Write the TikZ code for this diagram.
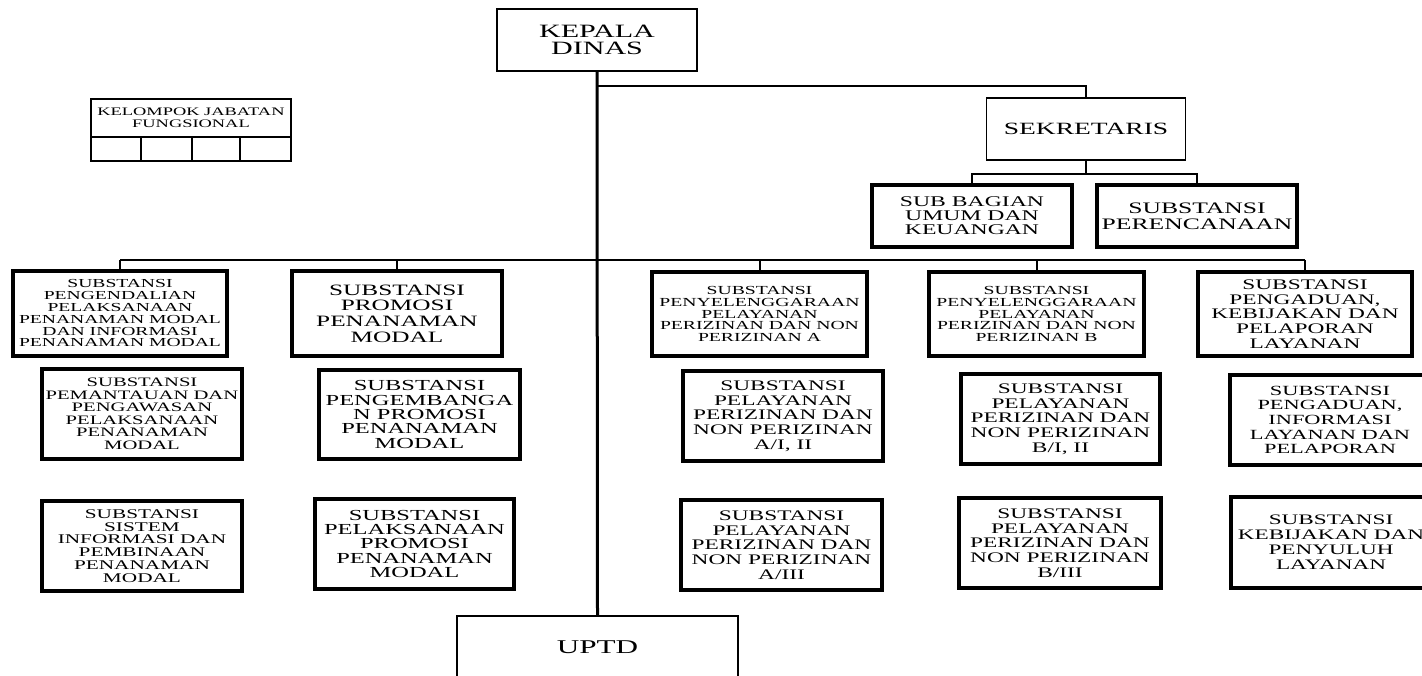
\documentclass[tikz,border=0pt]{standalone}
\usepackage{fontspec}
\newfontfamily\orgfont{Liberation Serif}[FakeStretch=1.6]
\newcommand\fsz[2]{\fontsize{#1}{#2}\selectfont}
\begin{document}
\begin{tikzpicture}[x=1pt,y=-1pt,
  bx/.style={draw=black, rectangle, inner sep=0pt, align=center, text=black},
  thinbox/.style={bx, line width=1.6pt},
  thickbox/.style={bx, line width=3.2pt},
  cellbox/.style={draw=black, rectangle, inner sep=0pt, line width=2.4pt, minimum height=24pt},
  conn/.style={draw=black, line width=2pt},
  thinconn/.style={draw=black, line width=1.5pt},
  trunk/.style={draw=black, line width=3pt}]
\useasboundingbox (0,0) rectangle (1422,676);
\fill[white] (0,0) rectangle (1422,676);
\clip (0,0) rectangle (1422,676);

% top level
\node[thinbox, minimum width=200pt, minimum height=62pt, font=\orgfont\fsz{18.8}{17.7}] (kd) at (597,40) {KEPALA\\DINAS};
\node[thinbox, minimum width=199pt, minimum height=62pt, font=\orgfont\fsz{17.2}{16}] (sek) at (1086,129) {SEKRETARIS};
\node[thickbox, minimum width=200pt, minimum height=62pt, font=\orgfont\fsz{14.8}{14}] (sub) at (972,216) {SUB BAGIAN\\UMUM DAN\\KEUANGAN};
\node[thickbox, minimum width=200pt, minimum height=62pt, font=\orgfont\fsz{16}{16}] (per) at (1197,216) {SUBSTANSI\\PERENCANAAN};

% kelompok jabatan fungsional
\node[thinbox, minimum width=200pt, minimum height=38pt, font=\orgfont\fsz{11.5}{11.7}] (kjf) at (191,118) {KELOMPOK JABATAN\\FUNGSIONAL};
\node[cellbox, minimum width=50pt] (c1) at (116,149) {};
\node[cellbox, minimum width=51pt] (c2) at (166.5,149) {};
\node[cellbox, minimum width=48pt] (c3) at (216,149) {};
\node[cellbox, minimum width=51pt] (c4) at (265.5,149) {};

% row 1
\node[thickbox, minimum width=214pt, minimum height=85pt, font=\orgfont\fsz{12.25}{11.8}] (l1) at (120,313.5) {SUBSTANSI\\PENGENDALIAN\\PELAKSANAAN\\PENANAMAN MODAL\\DAN INFORMASI\\PENANAMAN MODAL};
\node[thickbox, minimum width=210pt, minimum height=85pt, font=\orgfont\fsz{15.8}{15.7}] (p1) at (397,313.5) {SUBSTANSI\\PROMOSI\\PENANAMAN\\MODAL};
\node[thickbox, minimum width=215pt, minimum height=84pt, font=\orgfont\fsz{12.3}{11.8}] (a1) at (759.5,314) {SUBSTANSI\\PENYELENGGARAAN\\PELAYANAN\\PERIZINAN DAN NON\\PERIZINAN A};
\node[thickbox, minimum width=215pt, minimum height=84pt, font=\orgfont\fsz{12.3}{11.8}] (b1) at (1036.5,314) {SUBSTANSI\\PENYELENGGARAAN\\PELAYANAN\\PERIZINAN DAN NON\\PERIZINAN B};
\node[thickbox, minimum width=214pt, minimum height=84pt, font=\orgfont\fsz{14.6}{14.6}] (cc1) at (1305,314) {SUBSTANSI\\PENGADUAN,\\KEBIJAKAN DAN\\PELAPORAN\\LAYANAN};

% row 2
\node[thickbox, minimum width=200pt, minimum height=90pt, font=\orgfont\fsz{12.9}{12.5}] (l2) at (142,414) {SUBSTANSI\\PEMANTAUAN DAN\\PENGAWASAN\\PELAKSANAAN\\PENANAMAN\\MODAL};
\node[thickbox, minimum width=201pt, minimum height=89pt, font=\orgfont\fsz{15.3}{14.4}] (p2) at (419.5,414.5) {SUBSTANSI\\PENGEMBANGA\\N PROMOSI\\PENANAMAN\\MODAL};
\node[thickbox, minimum width=200pt, minimum height=90pt, font=\orgfont\fsz{14.6}{14.7}] (a2) at (783,416) {SUBSTANSI\\PELAYANAN\\PERIZINAN DAN\\NON PERIZINAN\\A/I, II};
\node[thickbox, minimum width=199pt, minimum height=90pt, font=\orgfont\fsz{14.6}{14.7}] (b2) at (1060.5,419) {SUBSTANSI\\PELAYANAN\\PERIZINAN DAN\\NON PERIZINAN\\B/I, II};
\node[thickbox, minimum width=200pt, minimum height=90pt, font=\orgfont\fsz{14}{14.6}] (cc2) at (1330,420) {SUBSTANSI\\PENGADUAN,\\INFORMASI\\LAYANAN DAN\\PELAPORAN};

% row 3
\node[thickbox, minimum width=200pt, minimum height=90pt, font=\orgfont\fsz{13.3}{12.7}] (l3) at (142,546) {SUBSTANSI\\SISTEM\\INFORMASI DAN\\PEMBINAAN\\PENANAMAN\\MODAL};
\node[thickbox, minimum width=199pt, minimum height=90pt, font=\orgfont\fsz{15.3}{14.4}] (p3) at (414.5,544) {SUBSTANSI\\PELAKSANAAN\\PROMOSI\\PENANAMAN\\MODAL};
\node[thickbox, minimum width=201pt, minimum height=90pt, font=\orgfont\fsz{14.6}{14.7}] (a3) at (781.5,545) {SUBSTANSI\\PELAYANAN\\PERIZINAN DAN\\NON PERIZINAN\\A/III};
\node[thickbox, minimum width=202pt, minimum height=90pt, font=\orgfont\fsz{14.6}{14.7}] (b3) at (1060,543) {SUBSTANSI\\PELAYANAN\\PERIZINAN DAN\\NON PERIZINAN\\B/III};
\node[thickbox, minimum width=200pt, minimum height=91pt, font=\orgfont\fsz{14.5}{15}] (cc3) at (1331,542.5) {SUBSTANSI\\KEBIJAKAN DAN\\PENYULUH\\LAYANAN};

% UPTD
\node[thinbox, minimum width=281pt, minimum height=62pt, font=\orgfont\fsz{19.5}{19}] (uptd) at (597.5,647) {UPTD};

% connectors
\coordinate (bl) at (120,260);
\coordinate (br) at (1305,260);
\coordinate (sj) at (597,86);
\coordinate (sk) at (1086,174);
\draw[trunk] (kd.south) -- (uptd.north);
\draw[thinconn] (sj) -| (sek.north);
\draw[conn] (sek.south) -- (sk);
\draw[conn] (sub.north) |- (sk) -| (per.north);
\draw[conn] (bl) -- (br);
\draw[conn] (bl) -- (l1.north);
\draw[conn] (br) -- (cc1.north);
\draw[conn] (p1.north) -- (p1.north |- bl);
\draw[conn] (a1.north) -- (a1.north |- bl);
\draw[conn] (b1.north) -- (b1.north |- bl);
\end{tikzpicture}
\end{document}
